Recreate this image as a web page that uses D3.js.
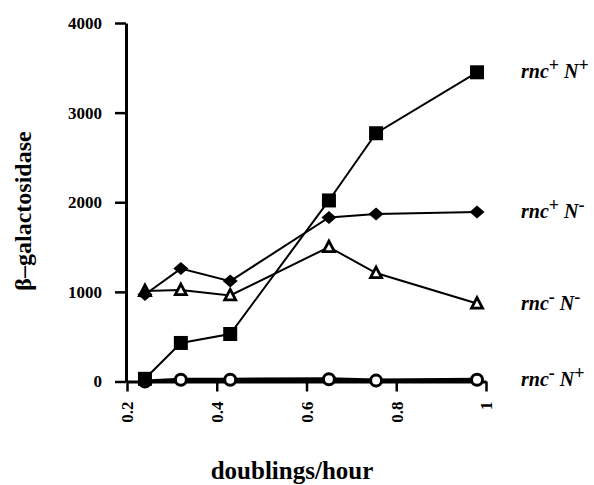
<!DOCTYPE html>
<html>
<head>
<meta charset="utf-8">
<script src="https://cdn.jsdelivr.net/npm/d3@7"></script>
<style>
  body { margin: 0; background: #fff; }
  text { font-family: "Liberation Serif", "Times New Roman", serif; font-weight: bold; }
</style>
</head>
<body>
<div id="chart"></div>
<script>
const width = 594,
    height = 485

// doublings/hour
const xVals = [0.24, 0.32, 0.43, 0.65, 0.755, 0.98]
const rncPlusNPlus = [30, 430, 530, 2020, 2770, 3450]
const rncPlusNMinus = [970, 1260, 1120, 1830, 1870, 1890]
const rncMinusNMinus = [1010, 1020, 960, 1500, 1210, 870]
const rncMinusNPlus = [0, 20, 20, 25, 10, 20]
const xTicks = [0.2, 0.4, 0.6, 0.8, 1]
const yTicks = [0, 1000, 2000, 3000, 4000]

// name = [rnc sign, N sign]
const series = [
    {name: ["-", "+"], values: rncMinusNPlus, marker: "circle", lw: 4},
    {name: ["-", "-"], values: rncMinusNMinus, marker: "triangle", lw: 2},
    {name: ["+", "-"], values: rncPlusNMinus, marker: "diamond", lw: 2},
    {name: ["+", "+"], values: rncPlusNPlus, marker: "square", lw: 2}
]

var svg = d3.select("#chart")
    .append("svg")
    .attr("width", width)
    .attr("height", height)

var x = d3.scaleLinear().domain([0.2, 1]).range([127, 486])
var y = d3.scaleLinear().domain([0, 4000]).range([381.5, 23])

// y axis
var yAxis = svg.append("g")
    .attr("transform", "translate(126,0)")
    .call(d3.axisLeft(y).tickValues(yTicks).tickFormat(d => d).tickSize(11).tickSizeOuter(0).tickPadding(13))
yAxis.select(".domain").attr("stroke-width", 3)
yAxis.selectAll(".tick line").attr("stroke-width", 2.5)
yAxis.selectAll(".tick text").attr("font-size", 17).attr("fill", "#000")

// x axis
var xAxis = svg.append("g")
    .attr("transform", "translate(0,381.5)")
    .call(d3.axisBottom(x).tickValues(xTicks).tickFormat(d => d).tickSize(10).tickSizeOuter(0))
xAxis.select(".domain").attr("stroke-width", 3)
xAxis.selectAll(".tick line").attr("stroke-width", 2.5)
xAxis.selectAll(".tick text")
    .attr("font-size", 17)
    .attr("fill", "#000")
    .attr("transform", "rotate(-90)")
    .attr("text-anchor", "end")
    .attr("x", -20)
    .attr("y", 0)
    .attr("dy", "0.35em")

// axis titles
svg.append("text")
    .attr("x", 292)
    .attr("y", 479)
    .attr("text-anchor", "middle")
    .attr("font-size", 25)
    .text("doublings/hour")

svg.append("text")
    .attr("transform", "translate(31,211) rotate(-90)")
    .attr("text-anchor", "middle")
    .attr("font-size", 24)
    .text("β–galactosidase")

var line = d3.line()
    .x((d, i) => x(xVals[i]))
    .y(d => y(d))

series.forEach(s => {
    svg.append("path")
        .datum(s.values)
        .attr("fill", "none")
        .attr("stroke", "#000")
        .attr("stroke-width", s.lw)
        .attr("d", line)

    var g = svg.append("g")
        .selectAll("g")
        .data(s.values)
        .enter()
        .append("g")
        .attr("transform", (d, i) => `translate(${x(xVals[i])},${y(d)})`)

    if (s.marker === "circle") {
        g.append("circle").attr("r", 5.5)
            .attr("fill", "#fff").attr("stroke", "#000").attr("stroke-width", 3)
    } else if (s.marker === "triangle") {
        g.append("path").attr("d", "M0,-6L5.5,4.5L-5.5,4.5Z")
            .attr("fill", "#fff").attr("stroke", "#000").attr("stroke-width", 2.8)
    } else if (s.marker === "diamond") {
        g.append("path").attr("d", "M0,-6.5L7.5,0L0,6.5L-7.5,0Z").attr("fill", "#000")
    } else {
        g.append("rect").attr("x", -7).attr("y", -7).attr("width", 14).attr("height", 14)
            .attr("fill", "#000")
    }

    // label at the right of the last point
    var last = s.values[s.values.length - 1]
    var t = svg.append("text")
        .attr("x", 521)
        .attr("y", y(last) + 6)
        .attr("font-size", 20)
    t.append("tspan").attr("font-style", "italic").text("rnc")
    t.append("tspan").attr("dy", -7).attr("font-size", 18).text(s.name[0])
    t.append("tspan").attr("dy", 7).attr("font-style", "italic").text(" N")
    t.append("tspan").attr("dy", -7).attr("font-size", 18).text(s.name[1])
})
</script>
</body>
</html>
